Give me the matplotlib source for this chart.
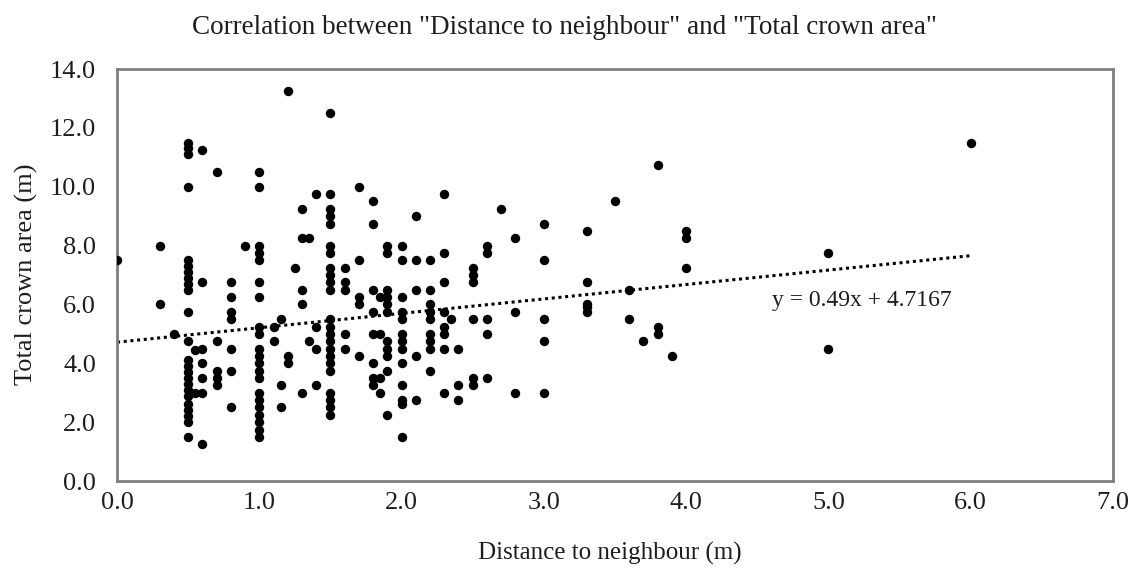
import matplotlib
matplotlib.use("Agg")
import matplotlib.pyplot as plt
import numpy as np

plt.rcParams['font.family'] = ['Liberation Serif', 'DejaVu Serif']

# column-wise readings: (distance, [crown areas])
d00 = [7.5]
d03 = [8.0, 6.0]
d04 = [5.0]
d05 = [11.5, 11.3, 11.1, 10.0, 7.5, 7.3, 7.1, 6.9, 6.7, 6.5, 5.75, 4.75,
       4.1, 3.9, 3.7, 3.5, 3.3, 3.1, 2.9, 2.6, 2.4, 2.2, 2.0, 1.5]
d055 = [4.45, 3.0]
d06 = [11.25, 6.75, 4.5, 4.0, 3.5, 3.0, 1.25]
d07 = [10.5, 4.75, 3.75, 3.5, 3.25]
d08 = [6.75, 6.25, 5.75, 5.5, 4.5, 3.75, 2.5]
d09 = [8.0]
d10 = [10.5, 10.0, 8.0, 7.75, 7.5, 6.75, 6.25, 5.25, 5.0, 4.5, 4.25, 4.0,
       3.75, 3.5, 3.0, 2.75, 2.5, 2.25, 2.0, 1.75, 1.5]
d11 = [5.25, 4.75]
d115 = [5.5, 3.25, 2.5]
d12 = [13.25, 4.25, 4.0]
d125 = [7.25]
d13 = [9.25, 8.25, 6.5, 6.0, 3.0]
d135 = [8.25, 4.75]
d14 = [9.75, 5.25, 4.5, 3.25]
d15 = [12.5, 9.75, 9.25, 9.0, 8.75, 8.0, 7.75, 7.25, 7.0, 6.75, 6.5, 5.5, 5.25,
       5.0, 4.75, 4.5, 4.25, 4.0, 3.75, 3.0, 2.75, 2.5, 2.25]
d16 = [7.25, 6.75, 6.5, 5.0, 4.5]
d17 = [10.0, 7.5, 6.25, 6.0, 4.25]
d18 = [9.5, 8.75, 6.5, 5.75, 5.0, 4.0, 3.5, 3.25]
d185 = [6.25, 5.0, 3.5, 3.0]
d19 = [8.0, 7.75, 6.5, 6.25, 6.0, 5.75, 4.75, 4.5, 4.25, 3.75, 2.25]
d20 = [8.0, 7.5, 6.25, 5.75, 5.5, 5.0, 4.75, 4.5, 4.0, 3.25, 2.75, 2.6, 1.5]
d21 = [9.0, 7.5, 6.5, 4.25, 2.75]
d22 = [7.5, 6.5, 6.0, 5.75, 5.5, 5.0, 4.75, 4.5, 3.75]
d23 = [9.75, 7.75, 6.75, 5.75, 5.25, 5.0, 4.5, 3.0]
d235 = [5.5]
d24 = [4.5, 3.25, 2.75]
d25 = [7.25, 7.0, 6.75, 5.5, 3.5, 3.25]
d26 = [8.0, 7.75, 5.5, 5.0, 3.5]
d27 = [9.25]
d28 = [8.25, 5.75, 3.0]
d30 = [8.75, 7.5, 5.5, 4.75, 3.0]
d33 = [8.5, 6.75, 6.0, 5.9, 5.75]
d35 = [9.5]
d36 = [6.5, 5.5]
d37 = [4.75]
d38 = [10.75, 5.25, 5.0]
d39 = [4.25]
d40 = [8.5, 8.25, 7.25]
d50 = [7.75, 4.5]
d60 = [11.5]

columns = [(0.0, d00), (0.3, d03), (0.4, d04), (0.5, d05), (0.55, d055), (0.6, d06),
           (0.7, d07), (0.8, d08), (0.9, d09), (1.0, d10), (1.1, d11), (1.15, d115),
           (1.2, d12), (1.25, d125), (1.3, d13), (1.35, d135), (1.4, d14), (1.5, d15),
           (1.6, d16), (1.7, d17), (1.8, d18), (1.85, d185), (1.9, d19), (2.0, d20),
           (2.1, d21), (2.2, d22), (2.3, d23), (2.35, d235), (2.4, d24), (2.5, d25),
           (2.6, d26), (2.7, d27), (2.8, d28), (3.0, d30), (3.3, d33), (3.5, d35),
           (3.6, d36), (3.7, d37), (3.8, d38), (3.9, d39), (4.0, d40), (5.0, d50),
           (6.0, d60)]

slope = 0.49
intercept = 4.7167
trend_x = [0.0, 6.0]

xticks = [0, 1, 2, 3, 4, 5, 6, 7]
yticks = [0, 2, 4, 6, 8, 10, 12, 14]

xs = []
ys = []
for dx, vals in columns:
    for v in vals:
        xs.append(dx)
        ys.append(v)

TXT = '#1e1e1e'
fig = plt.figure(figsize=(11.3, 5.72), dpi=100)
ax = fig.add_axes([117/1130, 1-481/572, (1113-117)/1130, (481-69)/572])

ax.scatter(xs, ys, s=46, color='black', zorder=3, linewidths=0)
tx = np.array(trend_x)
ax.plot(tx, slope*tx + intercept, linestyle=(0, (1, 1.2)), color='black', linewidth=2.2, zorder=2)
ax.text(4.6, 6.15, 'y = 0.49x + 4.7167', fontsize=17, va='center', ha='left', color=TXT)

ax.set_xlim(0, 7)
ax.set_ylim(0, 14)
ax.set_xticks(xticks)
ax.set_yticks(yticks)
ax.set_xticklabels([f'{v:.1f}' for v in xticks], fontsize=19)
ax.set_yticklabels([f'{v:.1f}' for v in yticks], fontsize=19)
ax.tick_params(axis='x', length=0, pad=8, colors=TXT)
ax.tick_params(axis='y', length=0, pad=15, colors=TXT)
for sp in ax.spines.values():
    sp.set_color('#7f7f7f')
    sp.set_linewidth(2)

fig.text(610/1130, 1-553/572, 'Distance to neighbour (m)', fontsize=18,
         ha='center', va='center', color=TXT)
fig.text(26/1130, 1-274/572, 'Total crown area (m)', fontsize=19, rotation=90,
         ha='center', va='center', color=TXT)
fig.text(564/1130, 1-27/572, 'Correlation between "Distance to neighbour" and "Total crown area"',
         ha='center', va='center', fontsize=19.5, color=TXT)

fig.savefig('out.png', dpi=100)
